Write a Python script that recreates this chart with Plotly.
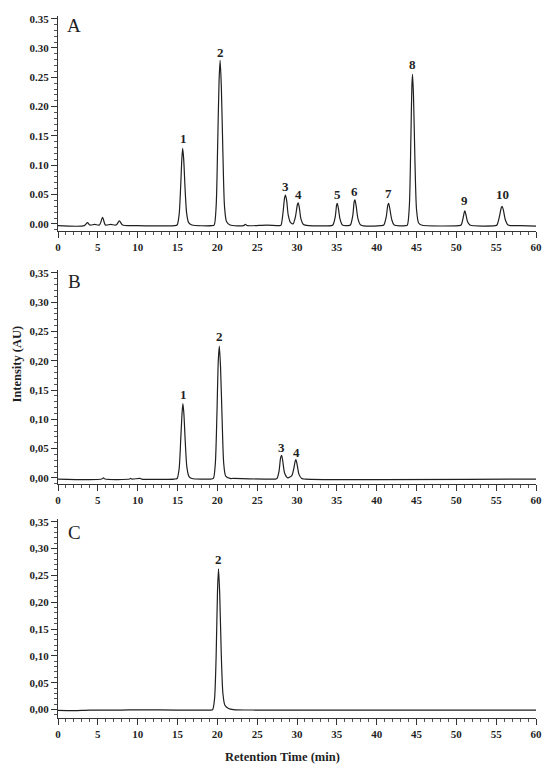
import plotly.graph_objects as go

# ---------------- data ----------------
# Panel A chromatogram: retention time (min) and intensity (AU)
a_time = [0, 3.3, 3.7, 4.0, 4.6, 5.2, 5.6, 5.95, 6.6, 7.3, 7.7, 8.1, 10, 14.6,
          14.95, 15.2, 15.4, 15.55, 15.65, 15.78, 15.95, 16.15, 16.4, 16.8,
          19.3, 19.6, 19.85, 20.05, 20.22, 20.35, 20.5, 20.7, 20.9, 21.15, 21.6,
          23.3, 23.5, 23.8, 26.2, 27.8,
          28.0, 28.25, 28.45, 28.55, 28.7, 28.9, 29.2,
          29.5, 29.8, 30.05, 30.15, 30.3, 30.5, 30.8, 31.5, 34.3,
          34.5, 34.8, 34.97, 35.05, 35.2, 35.4, 35.7, 36.4,
          36.7, 37.0, 37.18, 37.27, 37.42, 37.65, 38.0, 40.5,
          40.9, 41.2, 41.4, 41.5, 41.65, 41.9, 42.2, 43.6,
          43.85, 44.1, 44.3, 44.42, 44.5, 44.62, 44.8, 45.0, 45.25, 45.6, 50.3,
          50.6, 50.85, 51.0, 51.07, 51.2, 51.4, 51.7, 54.9,
          55.1, 55.4, 55.65, 55.75, 55.9, 56.15, 56.5, 58, 60]
a_signal = [-0.003, -0.003, 0.002, -0.002, -0.001, -0.002, 0.011, -0.002, -0.001, -0.002, 0.005, -0.002, -0.003, -0.003,
            -0.002, 0.015, 0.065, 0.112, 0.129, 0.110, 0.060, 0.018, 0.002, -0.002,
            -0.003, -0.002, 0.030, 0.140, 0.245, 0.279, 0.235, 0.120, 0.030, 0.004, -0.002,
            -0.003, -0.001, -0.003, -0.002, -0.003,
            -0.002, 0.020, 0.045, 0.049, 0.040, 0.015, 0.002,
            0.000, 0.012, 0.033, 0.036, 0.027, 0.008, -0.001, -0.003, -0.003,
            -0.002, 0.012, 0.032, 0.035, 0.026, 0.008, -0.002, -0.003,
            -0.002, 0.014, 0.038, 0.041, 0.031, 0.009, -0.002, -0.003,
            -0.002, 0.012, 0.032, 0.035, 0.026, 0.007, -0.002, -0.003,
            -0.002, 0.030, 0.150, 0.235, 0.255, 0.220, 0.110, 0.025, 0.002, -0.002, -0.003,
            -0.002, 0.010, 0.020, 0.022, 0.016, 0.004, -0.002, -0.003,
            -0.002, 0.012, 0.028, 0.030, 0.024, 0.007, -0.002, -0.003, -0.004]

# Panel B chromatogram
b_time = [0, 5.5, 5.7, 5.9, 9.0, 9.1, 9.3, 10.3, 10.5, 14.6,
          14.95, 15.2, 15.42, 15.58, 15.68, 15.8, 15.98, 16.18, 16.45, 16.8,
          19.2, 19.5, 19.75, 19.95, 20.12, 20.25, 20.4, 20.6, 20.8, 21.05, 21.6,
          22, 27.3,
          27.5, 27.75, 27.95, 28.07, 28.2, 28.45, 28.85,
          29.35, 29.6, 29.78, 29.86, 30.0, 30.25, 30.6, 31, 60]
b_signal = [-0.002, -0.002, 0.000, -0.002, -0.002, -0.001, -0.002, -0.001, -0.002, -0.002,
            -0.001, 0.015, 0.070, 0.112, 0.127, 0.110, 0.060, 0.018, 0.002, -0.001,
            -0.002, -0.001, 0.025, 0.110, 0.200, 0.225, 0.190, 0.100, 0.025, 0.003, -0.001,
            -0.001, -0.002,
            -0.001, 0.012, 0.035, 0.0386, 0.030, 0.008, 0.000,
            0.004, 0.016, 0.029, 0.031, 0.024, 0.006, -0.001, -0.002, -0.002]

# Panel C chromatogram
c_time = [0, 2, 4, 8, 10, 15, 19.0,
          19.4, 19.65, 19.85, 20.02, 20.15, 20.3, 20.5, 20.7, 20.95, 21.4, 22, 25, 60]
c_signal = [-0.0015, -0.002, -0.001, -0.001, -0.0005, -0.001, -0.001,
            -0.0005, 0.020, 0.100, 0.220, 0.262, 0.215, 0.100, 0.030, 0.008, 0.002, 0.000, -0.001, -0.001]

# Peak number labels (position of the label text)
a_label_text = ["1", "2", "3", "4", "5", "6", "7", "8", "9", "10"]
a_label_x = [15.7, 20.4, 28.57, 30.15, 35.1, 37.27, 41.5, 44.5, 51.07, 55.77]
a_label_y = [0.145, 0.293, 0.0636, 0.0493, 0.0493, 0.055, 0.0526, 0.271, 0.0398, 0.0493]

b_label_text = ["1", "2", "3", "4"]
b_label_x = [15.7, 20.3, 28.0, 29.9]
b_label_y = [0.142, 0.241, 0.052, 0.044]

c_label_text = ["2"]
c_label_x = [20.15]
c_label_y = [0.279]

panel_letters = ["A", "B", "C"]
y_tick_vals = [0, 0.05, 0.10, 0.15, 0.20, 0.25, 0.30, 0.35]
y_tick_text_dot = ["0.00", "0.05", "0.10", "0.15", "0.20", "0.25", "0.30", "0.35"]
y_tick_text_comma = ["0,00", "0,05", "0,10", "0,15", "0,20", "0,25", "0,30", "0,35"]
x_tick_vals = [0, 5, 10, 15, 20, 25, 30, 35, 40, 45, 50, 55, 60]

# ---------------- figure ----------------
FONT = "Liberation Serif"
INK = "#1f1f1f"
OFF = 8                      # page body margin of the browser
W, H = 550 - OFF, 770 - OFF
ML, MR = 58 - OFF, 14
PW = W - ML - MR

def px_x(p):
    return (p - OFF - ML) / PW

def px_y(p):
    return (H - (p - OFF)) / H

# (top px, bottom px, y range) for each panel, in window pixels
panels = [
    (13.0, 229.0, [-0.0124, 0.3546], y_tick_text_dot, a_time, a_signal, a_label_text, a_label_x, a_label_y, 22.7),
    (268.3, 483.0, [-0.0107, 0.3546], y_tick_text_comma, b_time, b_signal, b_label_text, b_label_x, b_label_y, 279.3),
    (518.0, 717.3, [-0.01485, 0.355], y_tick_text_comma, c_time, c_signal, c_label_text, c_label_x, c_label_y, 531.7),
]

fig = go.Figure()
annotations = []
layout = {}

for i, (top, bot, yr, ytxt, tx, sig, ltxt, lx, ly, letter_y) in enumerate(panels):
    n = i + 1
    xa = "xaxis" if n == 1 else f"xaxis{n}"
    ya = "yaxis" if n == 1 else f"yaxis{n}"
    xr = "x" if n == 1 else f"x{n}"
    yrf = "y" if n == 1 else f"y{n}"
    fig.add_trace(go.Scatter(
        x=tx, y=sig, mode="lines", xaxis=xr, yaxis=yrf,
        line=dict(color=INK, width=1.2, shape="spline", smoothing=0.7),
        showlegend=False, hoverinfo="skip"))
    layout[xa] = dict(
        domain=[0, 1], anchor=yrf, range=[0, 60], showline=True, linecolor="#333",
        linewidth=1, ticks="outside", ticklen=6, tickwidth=1, tickcolor="#333",
        tickvals=x_tick_vals, showgrid=False, zeroline=False,
        tickfont=dict(family=FONT, size=11, color=INK, weight="bold"),
        minor=dict(dtick=1, tick0=0, ticks="outside", ticklen=3, tickcolor="#555", showgrid=False))
    layout[ya] = dict(
        domain=[px_y(bot), px_y(top)], anchor=xr, range=yr, showline=True, linecolor="#333",
        linewidth=1, ticks="outside", ticklen=6, tickwidth=1, tickcolor="#333",
        tickvals=y_tick_vals, ticktext=ytxt, showgrid=False, zeroline=False,
        tickfont=dict(family=FONT, size=11, color=INK, weight="bold"),
        minor=dict(dtick=0.01, tick0=0, ticks="outside", ticklen=3, tickcolor="#555", showgrid=False))
    for t, x, y in zip(ltxt, lx, ly):
        annotations.append(dict(x=x, y=y, xref=xr, yref=yrf, text=t, showarrow=False,
                                xanchor="center", yanchor="middle",
                                font=dict(family=FONT, size=13, color=INK, weight="bold")))
    annotations.append(dict(x=px_x(74), y=px_y(letter_y), xref="paper", yref="paper",
                            text=panel_letters[i], showarrow=False, xanchor="center", yanchor="middle",
                            font=dict(family=FONT, size=19, color=INK)))

annotations.append(dict(x=px_x(17), y=px_y(363), xref="paper", yref="paper",
                        text="Intensity (AU)", textangle=-90, showarrow=False,
                        xanchor="center", yanchor="middle",
                        font=dict(family=FONT, size=12.5, color=INK, weight="bold")))
annotations.append(dict(x=px_x(282), y=px_y(756.7), xref="paper", yref="paper",
                        text="Retention Time (min)", showarrow=False,
                        xanchor="center", yanchor="middle",
                        font=dict(family=FONT, size=12.5, color=INK, weight="bold")))

fig.update_layout(
    width=W, height=H,
    margin=dict(l=ML, r=MR, t=0, b=0),
    paper_bgcolor="white", plot_bgcolor="white",
    annotations=annotations,
    **layout)

fig.write_html("out.html")
